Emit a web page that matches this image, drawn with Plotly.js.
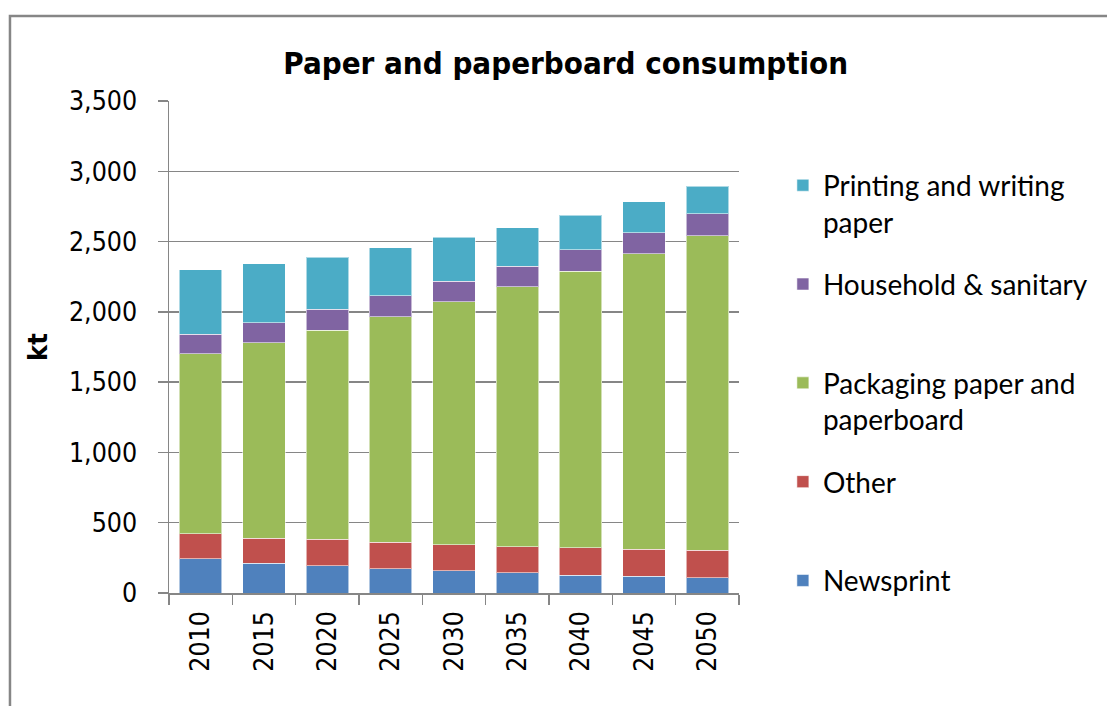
<!DOCTYPE html>
<html>
<head>
<meta charset="utf-8">
<script src="https://cdn.plot.ly/plotly-3.0.1.min.js"></script>
<style>
  html, body { margin: 0; padding: 0; background: #ffffff; }
  #chart { width: 1107px; height: 706px; }
</style>
</head>
<body>
<div id="chart"></div>
<script>
// ---- data (kt) ----
const years = ['2010', '2015', '2020', '2025', '2030', '2035', '2040', '2045', '2050'];
const newsprint = [243, 212, 193, 174, 157, 145, 126, 119, 109];
const other = [178, 178, 188, 186, 185, 185, 197, 194, 195];
const packaging = [1281, 1391, 1488, 1607, 1731, 1850, 1966, 2102, 2236];
const household = [138, 140, 148, 147, 145, 144, 154, 147, 159];
const printing = [460, 422, 373, 343, 311, 276, 245, 223, 195];
const yTicks = [0, 500, 1000, 1500, 2000, 2500, 3000, 3500];
const yTickText = ['0', '500', '1,000', '1,500', '2,000', '2,500', '3,000', '3,500'];

const seriesNames = ['Newsprint<br> ', 'Other<br> ', 'Packaging paper and<br>paperboard',
                     'Household & sanitary<br> ', 'Printing and writing<br>paper'];
const seriesValues = [newsprint, other, packaging, household, printing];
const seriesColors = ['#4F81BD', '#C0504D', '#9BBB59', '#8064A2', '#4BACC6'];

const tickFont = { family: 'DejaVu Sans Condensed, DejaVu Sans, sans-serif', size: 26.5, color: '#000000' };

const traces = seriesValues.map((vals, i) => ({
  type: 'bar',
  name: seriesNames[i],
  x: years,
  y: vals,
  legendgroup: 'g' + i,
  legendrank: seriesValues.length - i,
  marker: { color: seriesColors[i], line: { color: 'rgba(255,255,255,0.55)', width: 1 } },
  hoverinfo: 'x+y+name'
}));

const layout = {
  width: 1107,
  height: 706,
  paper_bgcolor: '#ffffff',
  plot_bgcolor: '#ffffff',
  barmode: 'stack',
  bargap: 0.33,
  margin: { l: 169, r: 368, t: 101, b: 113, pad: 0 },
  title: {
    text: '<b>Paper and paperboard consumption</b>',
    font: { family: 'DejaVu Sans Condensed, DejaVu Sans, sans-serif', size: 31, color: '#000000' },
    x: 0.696, xanchor: 'center', xref: 'paper',
    y: 0.91, yanchor: 'middle'
  },
  xaxis: {
    type: 'category',
    tickfont: tickFont,
    tickangle: -90,
    ticks: 'outside',
    tickson: 'boundaries',
    ticklen: 10,
    tickcolor: '#868686',
    tickwidth: 1.5,
    ticklabelstandoff: 6,
    showline: true,
    linecolor: '#868686',
    linewidth: 1.5,
    showgrid: false,
    zeroline: false
  },
  yaxis: {
    range: [0, 3500],
    tickvals: yTicks,
    ticktext: yTickText,
    tickfont: tickFont,
    ticks: 'outside',
    ticklen: 10,
    tickcolor: '#868686',
    tickwidth: 1.5,
    ticklabelstandoff: 15,
    showline: true,
    linecolor: '#868686',
    linewidth: 1.5,
    showgrid: true,
    gridcolor: '#868686',
    gridwidth: 1.5,
    zeroline: false,
    title: {
      text: '<b>kt</b>',
      font: { family: 'DejaVu Sans Condensed, DejaVu Sans, sans-serif', size: 27, color: '#000000' },
      standoff: 13
    }
  },
  legend: {
    x: 1.077, xanchor: 'left',
    y: 0.879, yanchor: 'top',
    traceorder: 'grouped',
    tracegroupgap: 23,
    valign: 'top',
    font: { family: 'Lato, Open Sans, sans-serif', size: 28, color: '#000000' },
    bgcolor: 'rgba(0,0,0,0)'
  },
  shapes: [{
    type: 'rect', xref: 'paper', yref: 'paper',
    x0: -0.279, x1: 1.70, y0: -0.30, y1: 1.1728,
    line: { color: '#868686', width: 2.5 },
    fillcolor: 'rgba(0,0,0,0)', layer: 'below'
  }]
};

Plotly.newPlot('chart', traces, layout, { displayModeBar: false, staticPlot: true });
</script>
</body>
</html>
